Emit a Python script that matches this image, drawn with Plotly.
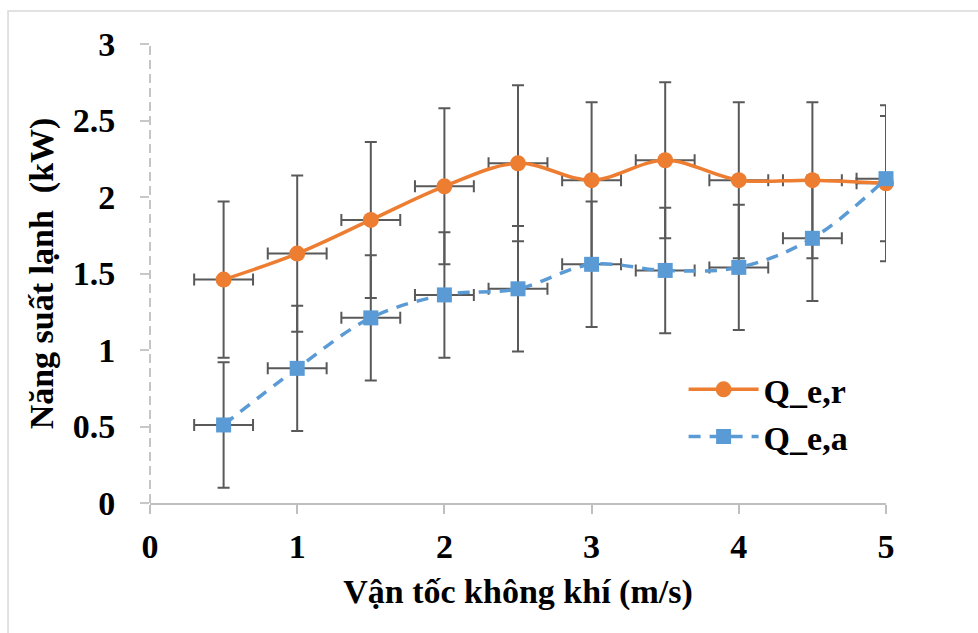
import plotly.graph_objects as go

# Air velocity (m/s)
velocity = [0.5, 1.0, 1.5, 2.0, 2.5, 3.0, 3.5, 4.0, 4.5, 5.0]

# Cooling capacity (kW)
q_er = [1.46, 1.63, 1.85, 2.07, 2.22, 2.11, 2.24, 2.11, 2.11, 2.09]
q_ea = [0.51, 0.88, 1.21, 1.36, 1.40, 1.56, 1.52, 1.54, 1.73, 2.12]

# Error margins
err_er_y = 0.51
err_ea_y = 0.41
err_x = 0.2

x_ticks = [0, 1, 2, 3, 4, 5]
y_ticks = [0, 0.5, 1, 1.5, 2, 2.5, 3]

FONT = "Liberation Serif"
FS = 34
ORANGE = "#ED7D31"
BLUE = "#5B9BD5"
ERR = "#595959"

fig = go.Figure()


def err_trace(y, ey):
    return go.Scatter(
        x=velocity, y=y, mode="markers",
        marker=dict(size=1, opacity=0),
        error_y=dict(type="constant", value=ey, color=ERR, thickness=2, width=6),
        error_x=dict(type="constant", value=err_x, color=ERR, thickness=2, width=6),
        showlegend=False, hoverinfo="skip", cliponaxis=True,
    )


fig.add_trace(err_trace(q_er, err_er_y))
fig.add_trace(err_trace(q_ea, err_ea_y))

fig.add_trace(go.Scatter(
    x=velocity, y=q_er, mode="lines+markers", name="Q_e,r",
    line=dict(color=ORANGE, width=3.5, shape="spline", smoothing=1),
    marker=dict(symbol="circle", size=16, color=ORANGE),
    cliponaxis=False,
))
fig.add_trace(go.Scatter(
    x=velocity, y=q_ea, mode="lines+markers", name="Q_e,a",
    line=dict(color=BLUE, width=3.5, shape="spline", smoothing=1, dash="12px,9px"),
    marker=dict(symbol="square", size=15, color=BLUE),
    cliponaxis=False,
))

# dashed vertical axis line along the left edge of the plot area
fig.add_shape(type="line", xref="paper", yref="paper", x0=0, x1=0, y0=0, y1=1,
              line=dict(color="#BFBFBF", width=1.8, dash="9px,5px"), layer="above")
# outer chart frame
fig.add_shape(type="rect", xref="paper", yref="paper",
              x0=-0.1929, x1=1.15, y0=-0.35, y1=1.0719,
              line=dict(color="#D9D9D9", width=1.5))

fig.update_layout(
    width=978, height=633,
    margin=dict(l=150, r=92, t=44, b=130),
    paper_bgcolor="white", plot_bgcolor="white",
    font=dict(family=FONT, size=FS, color="black"),
    legend=dict(
        x=0.725, y=0.31, xanchor="left", yanchor="top",
        font=dict(family=FONT, size=FS, color="black", weight="bold"),
        bgcolor="rgba(0,0,0,0)", itemwidth=70, tracegroupgap=0,
    ),
    xaxis=dict(
        range=[0, 5], tickvals=x_ticks, ticktext=[str(v) for v in x_ticks],
        showgrid=False, zeroline=False,
        showline=True, linecolor="#BFBFBF", linewidth=1.5,
        ticks="outside", ticklen=9, tickcolor="#BFBFBF", tickwidth=1.5,
        tickfont=dict(family=FONT, size=FS, color="black", weight="bold"),
        ticklabelstandoff=3,
        title=dict(text="Vận tốc không khí (m/s)", standoff=16,
                   font=dict(family=FONT, size=FS, color="black", weight="bold")),
    ),
    yaxis=dict(
        range=[0, 3], tickvals=y_ticks, ticktext=["0", "0.5", "1", "1.5", "2", "2.5", "3"],
        showgrid=False, zeroline=False, showline=False,
        ticks="outside", ticklen=9, tickcolor="#C8C8C8", tickwidth=1.5,
        tickfont=dict(family=FONT, size=FS, color="black", weight="bold"),
        ticklabelstandoff=18,
        title=dict(text="Năng suất lạnh  (kW)", standoff=8,
                   font=dict(family=FONT, size=FS, color="black", weight="bold")),
    ),
)

fig.write_html("out.html")
